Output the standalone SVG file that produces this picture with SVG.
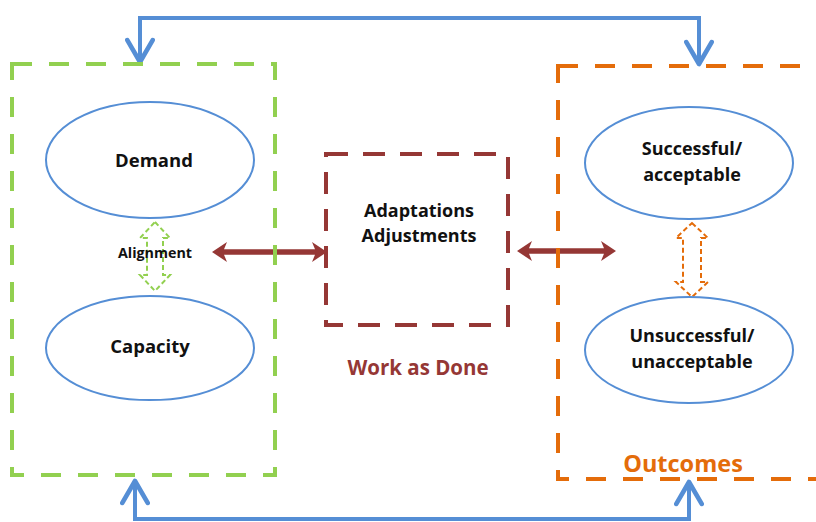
<svg xmlns="http://www.w3.org/2000/svg" width="816" height="522" viewBox="0 0 816 522">
<defs>
<marker id="chev" markerUnits="userSpaceOnUse" markerWidth="30" markerHeight="30" viewBox="-22 -13 26 26" refX="0" refY="0" orient="auto-start-reverse">
<path d="M-19,-11 L0,0 L-19,11" fill="none" stroke="#558ed5" stroke-width="4" stroke-linecap="round" stroke-linejoin="round"/>
</marker>
</defs>
<style>
.lbl{font-family:"Open Sans","Liberation Sans",sans-serif;font-weight:bold;text-anchor:middle;fill:#111}
.ell{fill:#fff;stroke:#558ed5;stroke-width:2}
.conn{fill:none;stroke:#558ed5;stroke-width:4;marker-start:url(#chev);marker-end:url(#chev)}
.box{fill:none;stroke-width:4;stroke-dasharray:20 17}
.hollow{fill:#fff;stroke-width:2;stroke-dasharray:5 3}
</style>
<rect width="816" height="522" fill="#fff"/>
<g id="connectors">
<path class="conn" d="M140,62 L140,18 L699,18 L699,64"/>
<path class="conn" d="M135,481 L135,519 L689,519 L689,482"/>
<polygon fill="#953735" points="212,252 227,242 224,249.3 315,249.3 312,242 327,252 312,262 315,254.7 224,254.7 227,262"/>
<polygon fill="#953735" points="517,251 532,241 529,248.3 604,248.3 601,241 616,251 601,261 604,253.7 529,253.7 532,261"/>
<path class="hollow" stroke="#92d050" d="M155,222 L170,238 L163,238 L163,275 L170,275 L155,291 L140,275 L147,275 L147,238 L140,238 Z"/>
<path class="hollow" stroke="#e46c0a" d="M692,223 L708,238 L701,238 L701,282 L708,282 L692,297 L676,282 L683,282 L683,238 L676,238 Z"/>
</g>
<g id="green-box">
<rect class="box" stroke="#92d050" x="12" y="64" width="263" height="411"/>
</g>
<g id="orange-box">
<rect class="box" stroke="#e46c0a" x="558" y="66" width="280" height="413"/>
<text class="lbl" x="683" y="472" style="font-size:23.5px;fill:#e46c0a">Outcomes</text>
</g>
<g id="work-box">
<rect class="box" stroke="#953735" x="326" y="154" width="182" height="171" style="stroke-dasharray:22 15"/>
<text class="lbl" x="419" y="217" style="font-size:18px">Adaptations</text>
<text class="lbl" x="419" y="242" style="font-size:18px">Adjustments</text>
<text class="lbl" x="418" y="375" style="font-size:20.5px;fill:#953735">Work as Done</text>
</g>
<g id="demand">
<ellipse class="ell" cx="150" cy="160" rx="104" ry="58"/>
<text class="lbl" x="154" y="167" style="font-size:18.5px">Demand</text>
</g>
<g id="capacity">
<ellipse class="ell" cx="150" cy="348" rx="104" ry="52"/>
<text class="lbl" x="150" y="353" style="font-size:18.5px">Capacity</text>
</g>
<g id="alignment">
<text class="lbl" x="155" y="258" style="font-size:14.3px">Alignment</text>
</g>
<g id="successful">
<ellipse class="ell" cx="689" cy="163" rx="104" ry="56"/>
<text class="lbl" x="692" y="155" style="font-size:18px">Successful/</text>
<text class="lbl" x="692" y="181" style="font-size:18px">acceptable</text>
</g>
<g id="unsuccessful">
<ellipse class="ell" cx="689" cy="350" rx="104" ry="53"/>
<text class="lbl" x="692" y="342" style="font-size:18px">Unsuccessful/</text>
<text class="lbl" x="692" y="368" style="font-size:18px">unacceptable</text>
</g>
</svg>
